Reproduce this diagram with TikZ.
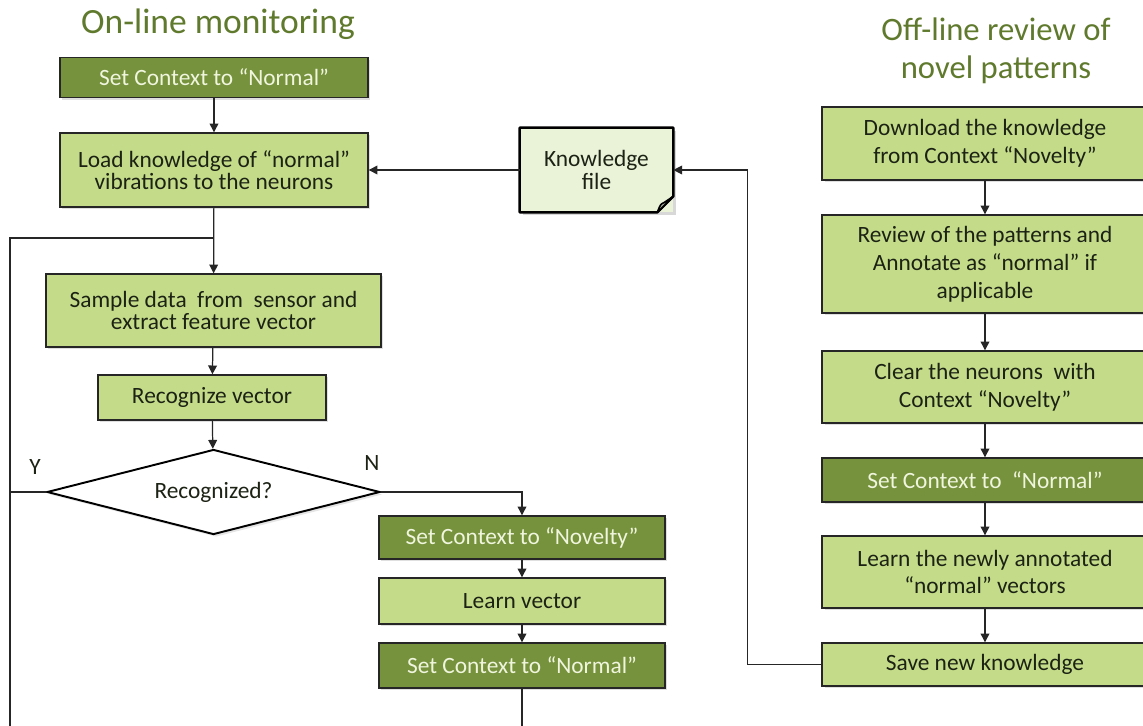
\documentclass[tikz,border=0pt]{standalone}
\usepackage{fontspec}
\setmainfont{Carlito}
\usetikzlibrary{shapes.geometric}
\usetikzlibrary{arrows.meta}
\usetikzlibrary{shadows}

\definecolor{leaf}{RGB}{196,220,137}
\definecolor{moss}{RGB}{118,146,60}
\definecolor{paper}{RGB}{234,242,216}
\definecolor{cream}{RGB}{240,245,222}
\definecolor{heading}{RGB}{96,122,45}
\definecolor{ink}{RGB}{28,34,20}

\tikzset{
	box/.style={draw=black!85, line width=0.8pt, inner sep=0pt, align=center,
		font=\fontsize{13.3}{12.8}\selectfont,
		drop shadow={shadow xshift=1.4pt, shadow yshift=-1.4pt, opacity=0.25}},
	lightbox/.style={box, fill=leaf, text=ink},
	darkbox/.style={box, fill=moss, text=cream},
	widelines/.style={font=\fontsize{13.3}{15.9}\selectfont},
	title/.style={text=heading, align=center, font=\fontsize{20.2}{21.5}\selectfont},
	link/.style={line width=0.7pt, draw=black!85},
	arrow/.style={link, -{Triangle[length=5pt,width=5pt]}},
}

\begin{document}
\begin{tikzpicture}[x=0.02cm, y=-0.02cm]
	\path[use as bounding box, fill=white] (0,0) rectangle (1143,726);

	% on-line side
	\node[title] (online) at (218,24) {On-line monitoring};
	\node[darkbox, minimum width=6.16cm, minimum height=0.8cm] (setA) at (214,77.5) {Set Context to “Normal”};
	\node[lightbox, minimum width=6.16cm, minimum height=1.48cm] (load) at (214,170) {Load knowledge of “normal”\\vibrations to the neurons};
	\node[lightbox, minimum width=6.7cm, minimum height=1.46cm] (sample) at (213.5,310.5) {Sample data\ \ from\ \ sensor and\\extract feature vector};
	\node[lightbox, minimum width=4.56cm, minimum height=0.9cm] (recog) at (212,397.5) {Recognize vector};
	\node[diamond, draw=black, line width=1.1pt, fill=white, inner sep=0pt, shape aspect=4,
		minimum width=6.66cm, minimum height=1.7cm, text=ink,
		font=\fontsize{13.3}{12.8}\selectfont,
		drop shadow={shadow xshift=1.4pt, shadow yshift=-1.4pt, opacity=0.2}] (test) at (213.5,492) {Recognized?};
	\node[text=ink, font=\fontsize{13.3}{13}\selectfont] (yes) at (35,467) {Y};
	\node[text=ink, font=\fontsize{13.3}{13}\selectfont] (no) at (372,463) {N};
	\node[darkbox, minimum width=5.72cm, minimum height=0.86cm] (novelty) at (522,537.5) {Set Context to “Novelty”};
	\node[lightbox, minimum width=5.72cm, minimum height=0.92cm] (learn) at (522,601) {Learn vector};
	\node[darkbox, minimum width=5.72cm, minimum height=0.9cm] (setB) at (522,665.5) {Set Context to “Normal”};

	% the knowledge file between the two sides
	\node[fill=paper, minimum width=3.06cm, minimum height=1.68cm, inner sep=0pt, align=center, text=ink,
		font=\fontsize{13.3}{12.8}\selectfont,
		drop shadow={shadow xshift=1.6pt, shadow yshift=-1.6pt, opacity=0.3}] (kfile) at (596.5,170) {Knowledge\\file};
	\draw[line width=1.4pt, line join=round] (kfile.north west) -- (kfile.north east) -- ([yshift=0.32cm]kfile.south east)
		-- ([xshift=-0.32cm]kfile.south east) -- (kfile.south west) -- cycle;
	\filldraw[fill=paper!70!black, line width=0.9pt, line join=round] ([xshift=-0.32cm]kfile.south east)
		.. controls ([xshift=-0.26cm, yshift=0.16cm]kfile.south east) .. ([xshift=-0.18cm, yshift=0.2cm]kfile.south east)
		-- ([yshift=0.32cm]kfile.south east) -- cycle;

	% off-line side
	\node[title, font=\fontsize{18.6}{21.5}\selectfont] (offline) at (996,51) {Off-line review of\\novel patterns};
	\node[lightbox, widelines, minimum width=6.52cm, minimum height=1.46cm] (download) at (985,143.5) {Download the knowledge\\from Context “Novelty”};
	\node[lightbox, widelines, minimum width=6.52cm, minimum height=1.96cm] (review) at (985,264) {Review of the patterns and\\Annotate as “normal” if\\applicable};
	\node[lightbox, widelines, minimum width=6.52cm, minimum height=1.44cm] (clear) at (985,387) {Clear the neurons\ \ with\\Context “Novelty”};
	\node[darkbox, minimum width=6.52cm, minimum height=0.88cm] (setC) at (985,480) {Set Context to\ \ “Normal”};
	\node[lightbox, widelines, minimum width=6.52cm, minimum height=1.44cm] (learnnew) at (985,572) {Learn the newly annotated\\“normal” vectors};
	\node[lightbox, minimum width=6.52cm, minimum height=0.86cm] (save) at (985,664.5) {Save new knowledge};

	\coordinate (merge) at (214,238);
	\coordinate (lowright) at (522,745);
	\coordinate (lowleft) at (10,745);

	% main loop
	\draw[arrow] (setA) -- (load);
	\draw[arrow] (load) -- (sample);
	\draw[arrow] (sample) -- (recog);
	\draw[arrow] (recog) -- (test);
	\draw[arrow] (test.east) -| (novelty.north);
	\draw[arrow] (novelty) -- (learn);
	\draw[arrow] (learn) -- (setB);
	\draw[link] (setB) -- (lowright) -- (lowleft) |- (merge);
	\draw[link] (test.west) -- (test.west -| lowleft);
	\draw[arrow] (kfile.west) -- (load.east);

	% review chain
	\draw[arrow] (download) -- (review);
	\draw[arrow] (review) -- (clear);
	\draw[arrow] (clear) -- (setC);
	\draw[arrow] (setC) -- (learnnew);
	\draw[arrow] (learnnew) -- (save);
	\draw[arrow] (save.west) -- ++(-74,0) |- (kfile.east);
\end{tikzpicture}
\end{document}
